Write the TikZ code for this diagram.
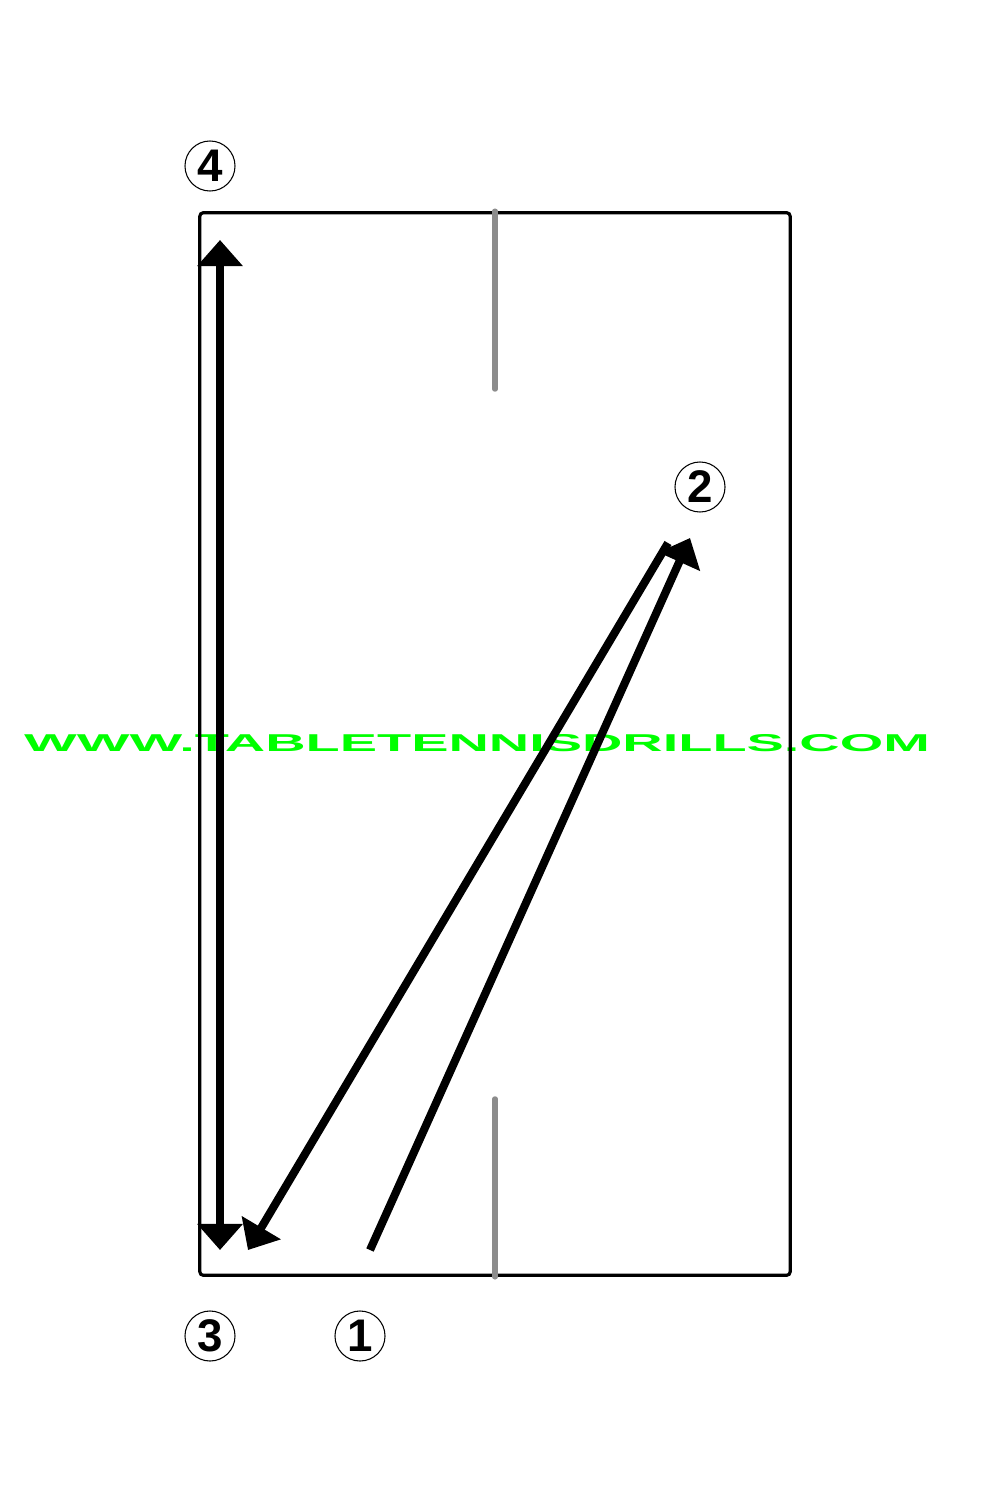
\documentclass[tikz,border=0pt]{standalone}
\usepackage{fontspec}
\setmainfont{Liberation Sans}
\usetikzlibrary{arrows.meta,positioning}

\begin{document}
\begin{tikzpicture}[%
    x=0.01cm, y=-0.01cm,        % one unit is one pixel of the drill sheet
    >={Triangle[length=0.26cm,width=0.44cm]},
    ]

\tikzset{
    board/.style={draw, line width=0.9pt, rounded corners=1pt},
    net/.style={draw=black!45, line width=1.5pt, line cap=round},
    spot/.style={circle, draw, line width=0.3pt, minimum size=0.5cm, inner sep=0pt, font={\fontsize{13}{13}\selectfont\bfseries}},
    shot/.style={->, line width=2.3pt},
    move/.style={<->, line width=2.4pt},
    wmark/.style={inner sep=0pt, text=green, font={\bfseries}},
}

\useasboundingbox (0,0) rectangle (1000,1500);

%% Watermark
\node [wmark] (web) at (477,743) {\resizebox{9.05cm}{0.17cm}{WWW.TABLETENNISDRILLS.COM}};

%% Table
\node [board, minimum width=5.9cm, minimum height=10.62cm, inner sep=0pt] (table) at (495,744) {};
    \draw [net] (table.north) -- ++(0,178);
    \draw [net] (table.south) -- ++(0,-178);

%% Positions
\node [spot] (p4) at (210,166) {4};
\node [spot] (p2) at (700,487) {2};
\node [spot] (p3) at (210,1336) {3};
\node [spot] (p1) at (360,1336) {1};

\coordinate (s1) at (370,1250);
\coordinate (t2) at (690,538);
\coordinate (s2) at (668,543);
\coordinate (t3) at (248,1250);
\coordinate (top) at (220,240);
\coordinate (bot) at (220,1250);

%% Shots
\draw [shot] (s1) -- (t2);
\draw [shot] (s2) -- (t3);
\draw [move] (bot) -- (top);
\end{tikzpicture}
\end{document}
